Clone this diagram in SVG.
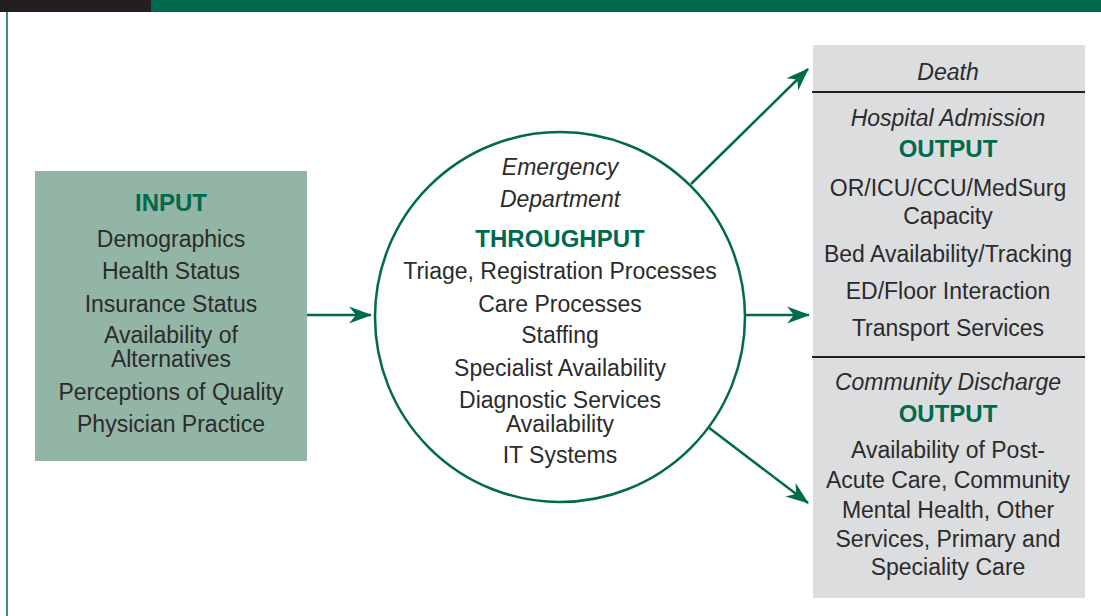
<svg xmlns="http://www.w3.org/2000/svg" width="1101" height="616" viewBox="0 0 1101 616">
<defs>
<style>
.t{font-family:"Liberation Sans",Arial,sans-serif;font-size:23px;fill:#2b2b2b;text-anchor:middle}
.i{font-style:italic}
.h{font-weight:bold;font-size:24px;fill:#006a4e}
.c{stroke:#006a4e;stroke-width:2.5;fill:none}
</style>
<marker id="ah" viewBox="-24 -10 26 20" refX="0" refY="0" markerWidth="26" markerHeight="20" markerUnits="userSpaceOnUse" orient="auto">
<path d="M1,0 L-22,-8.5 L-15,0 L-22,8.5 Z" fill="#006a4e"/>
</marker>
</defs>
<rect x="0" y="0" width="1101" height="616" fill="#ffffff"/>
<rect x="0" y="0" width="151" height="12" fill="#231f20"/>
<rect x="151" y="0" width="950" height="12" fill="#006a4e"/>
<line x1="7" y1="12" x2="7" y2="616" stroke="#006a4e" stroke-width="1.5"/>

<g id="input">
<rect x="35" y="171" width="272" height="290" fill="#93b5a6"/>
<text class="t h" x="171" y="211">INPUT</text>
<text class="t" x="171" y="247">Demographics</text>
<text class="t" x="171" y="279">Health Status</text>
<text class="t" x="171" y="312">Insurance Status</text>
<text class="t" x="171" y="343">Availability of</text>
<text class="t" x="171" y="367">Alternatives</text>
<text class="t" x="171" y="400">Perceptions of Quality</text>
<text class="t" x="171" y="432">Physician Practice</text>
</g>

<g id="throughput">
<circle cx="560" cy="317" r="185" fill="#ffffff" stroke="#006a4e" stroke-width="2.5"/>
<text class="t i" x="560" y="175">Emergency</text>
<text class="t i" x="560" y="207">Department</text>
<text class="t h" x="560" y="247">THROUGHPUT</text>
<text class="t" x="560" y="279">Triage, Registration Processes</text>
<text class="t" x="560" y="312">Care Processes</text>
<text class="t" x="560" y="343">Staffing</text>
<text class="t" x="560" y="376">Specialist Availability</text>
<text class="t" x="560" y="408">Diagnostic Services</text>
<text class="t" x="560" y="432">Availability</text>
<text class="t" x="560" y="463">IT Systems</text>
</g>

<g id="output">
<rect x="813" y="45" width="272" height="553" fill="#dcdddf"/>
<line x1="812" y1="92" x2="1085" y2="92" stroke="#231f20" stroke-width="2"/>
<line x1="812" y1="357" x2="1085" y2="357" stroke="#231f20" stroke-width="2"/>
<text class="t i" x="948" y="80">Death</text>
<text class="t i" x="948" y="126">Hospital Admission</text>
<text class="t h" x="948" y="157">OUTPUT</text>
<text class="t" x="948" y="196">OR/ICU/CCU/MedSurg</text>
<text class="t" x="948" y="224">Capacity</text>
<text class="t" x="948" y="262">Bed Availability/Tracking</text>
<text class="t" x="948" y="299">ED/Floor Interaction</text>
<text class="t" x="948" y="336">Transport Services</text>
<text class="t i" x="948" y="390">Community Discharge</text>
<text class="t h" x="948" y="422">OUTPUT</text>
<text class="t" x="948" y="458">Availability of Post-</text>
<text class="t" x="948" y="488">Acute Care, Community</text>
<text class="t" x="948" y="518">Mental Health, Other</text>
<text class="t" x="948" y="547">Services, Primary and</text>
<text class="t" x="948" y="575">Speciality Care</text>
</g>

<g id="connectors">
<line class="c" x1="307" y1="315" x2="371" y2="315" marker-end="url(#ah)"/>
<line class="c" x1="691" y1="184" x2="808" y2="69" marker-end="url(#ah)"/>
<line class="c" x1="745" y1="315" x2="809" y2="315" marker-end="url(#ah)"/>
<line class="c" x1="708" y1="427" x2="808" y2="503" marker-end="url(#ah)"/>
</g>
</svg>
